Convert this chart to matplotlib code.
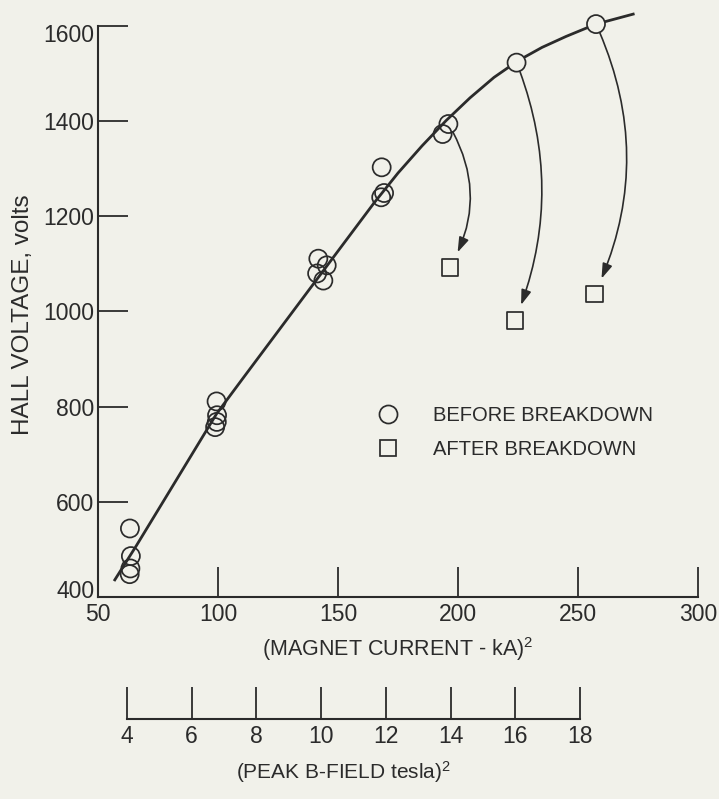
import matplotlib
matplotlib.use("Agg")
import matplotlib.pyplot as plt
from matplotlib.lines import Line2D
from matplotlib.transforms import ScaledTranslation

# ---------------- data ----------------
before_x = [63.3, 63.7, 63.5, 63.2, 99.4, 99.6, 99.5, 98.8,
            141.8, 145.3, 143.9, 141.3, 168.2, 169.2, 168.0,
            193.6, 196.0, 224.4, 257.5]
before_y = [544, 486, 460, 448, 811, 782, 768, 757,
            1111, 1097, 1065, 1080, 1303, 1249, 1240,
            1373, 1394, 1523, 1604]
after_x = [196.7, 223.8, 257.0]
after_y = [1093, 981, 1037]
# arrow pairs: index in before -> index in after
arrow_from = [16, 17, 18]
arrow_rad = [-0.29, -0.20, -0.23]

curve_x = [57, 66, 80, 99.4, 110, 130, 150, 165, 175, 185, 195, 205, 215,
           225, 235, 245, 257.5, 273]
curve_y = [436, 508, 624, 785, 857, 992, 1127, 1228, 1291, 1348, 1401, 1449,
           1492, 1527, 1555, 1578, 1604, 1625]

x_ticks = [50, 100, 150, 200, 250, 300]
y_ticks = [400, 600, 800, 1000, 1200, 1400, 1600]
b_ticks = [4, 6, 8, 10, 12, 14, 16, 18]

xlabel = "(MAGNET CURRENT - kA)$^2$"
ylabel = "HALL VOLTAGE, volts"
blabel = "(PEAK B-FIELD tesla)$^2$"
legend_labels = ["BEFORE BREAKDOWN", "AFTER BREAKDOWN"]

# ---------------- style ----------------
BG = "#f1f1ea"
INK = "#2b2b2b"
plt.rcParams["font.family"] = ["Liberation Sans", "DejaVu Sans"]
plt.rcParams["mathtext.fontset"] = "custom"
plt.rcParams["mathtext.rm"] = "Liberation Sans"
plt.rcParams["mathtext.it"] = "Liberation Sans"

W, H = 719, 799
fig = plt.figure(figsize=(W / 100, H / 100), dpi=100, facecolor=BG)

def fx(px):
    return px / W

def fy(py):
    return (H - py) / H

ax = fig.add_axes([fx(98), fy(597), fx(698) - fx(98), fy(26) - fy(597)])
ax.set_facecolor("none")
ax.set_xlim(50, 300)
ax.set_ylim(400, 1600)
for s in ["top", "right"]:
    ax.spines[s].set_visible(False)
for s in ["left", "bottom"]:
    ax.spines[s].set_color(INK)
    ax.spines[s].set_linewidth(1.5)
ax.set_xticks(x_ticks)
ax.set_yticks(y_ticks)
ax.tick_params(axis="both", direction="in", length=21.5, width=1.3, color=INK,
               labelcolor=INK, labelsize=16.5)
ax.tick_params(axis="x", pad=4)
ax.tick_params(axis="y", pad=2.5)
# nudge end labels like the reference
ylabs = ax.get_yticklabels()
ylabs[0].set_transform(ylabs[0].get_transform() +
                       ScaledTranslation(0, 6 / 72, fig.dpi_scale_trans))
ylabs[-1].set_transform(ylabs[-1].get_transform() +
                        ScaledTranslation(0, -5 / 72, fig.dpi_scale_trans))

# curve
ax.plot(curve_x, curve_y, color=INK, lw=2.0, clip_on=False, zorder=2,
        solid_joinstyle="round")

# circles
fc = [BG if y > 1500 else "none" for y in before_y]
ax.scatter(before_x, before_y, s=13 ** 2, marker="o", facecolors=fc,
           edgecolors=INK, linewidths=1.25, clip_on=False, zorder=3)
ax.scatter(after_x, after_y, s=12 ** 2, marker="s", facecolors="none",
           edgecolors=INK, linewidths=1.25, clip_on=False, zorder=3)

# arrows
for i, (k, rad) in enumerate(zip(arrow_from, arrow_rad)):
    ax.annotate("", xy=(after_x[i], after_y[i]), xytext=(before_x[k], before_y[k]),
                arrowprops=dict(arrowstyle="-|>,head_length=0.9,head_width=0.3",
                                connectionstyle=f"arc3,rad={rad}",
                                color=INK, lw=1.2, shrinkA=6.5, shrinkB=12,
                                mutation_scale=10),
                annotation_clip=False, zorder=2)

# legend
handles = [Line2D([], [], marker="o", ls="none", ms=13, mfc="none", mec=INK, mew=1.25),
           Line2D([], [], marker="s", ls="none", ms=12, mfc="none", mec=INK, mew=1.25)]
leg = ax.legend(handles, legend_labels, loc="upper left",
                bbox_to_anchor=(fx(378), fy(406)), bbox_transform=fig.transFigure,
                frameon=False, fontsize=14.5, handlelength=1.0, handletextpad=1.75,
                labelspacing=0.75, borderpad=0, borderaxespad=0)
for t in leg.get_texts():
    t.set_color(INK)

# axis labels
fig.text(fx(398), fy(649), xlabel, ha="center", va="center", fontsize=15.5, color=INK)
fig.text(fx(23), fy(315), ylabel, ha="center", va="center", rotation=90,
         fontsize=17.5, color=INK)

# secondary B-field axis
ax2 = fig.add_axes([fx(127), fy(719), fx(580) - fx(127), 0.06])
ax2.set_facecolor("none")
ax2.set_xlim(4, 18)
ax2.set_ylim(0, 1)
for s in ["top", "right", "left"]:
    ax2.spines[s].set_visible(False)
ax2.spines["bottom"].set_color(INK)
ax2.spines["bottom"].set_linewidth(1.5)
ax2.set_yticks([])
ax2.set_xticks(b_ticks)
ax2.tick_params(axis="x", direction="in", length=23, width=1.3, color=INK,
                labelcolor=INK, labelsize=16.5, pad=4)
fig.text(fx(343), fy(772), blabel, ha="center", va="center", fontsize=15, color=INK)

fig.savefig("out.png", dpi=100, facecolor=BG)
